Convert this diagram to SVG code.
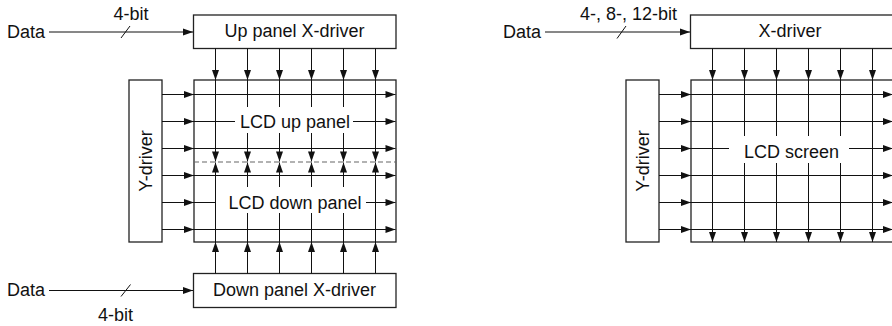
<svg xmlns="http://www.w3.org/2000/svg" width="892" height="326" viewBox="0 0 892 326">
<style>
  .box { fill: #fff; stroke: #222; stroke-width: 1.3; }
  .panel { fill: none; stroke: #222; stroke-width: 1.3; }
  .ln { fill: none; stroke: #111; stroke-width: 1; }
  .arr { fill: none; stroke: #111; stroke-width: 1; marker-end: url(#ah); }
  .dash { fill: none; stroke: #666; stroke-width: 1.2; stroke-dasharray: 5 3; }
  .bg { fill: #fff; stroke: none; }
  text { font-family: "Liberation Sans", Arial, sans-serif; font-size: 18px; fill: #111; }
  .mid { text-anchor: middle; }
</style>
<defs>
  <marker id="ah" markerUnits="userSpaceOnUse" markerWidth="10" markerHeight="7" refX="10" refY="3.5" orient="auto" overflow="visible">
    <path d="M0,0 L10,3.5 L0,7 Z" fill="#111"/>
  </marker>
</defs>

<!-- Left diagram nodes -->
<g id="up-panel-x-driver">
  <rect class="box" x="193.5" y="15" width="202.5" height="33.5"/>
  <text class="mid" x="294.5" y="37">Up panel X-driver</text>
</g>
<g id="down-panel-x-driver">
  <rect class="box" x="193.5" y="273.5" width="202.5" height="34"/>
  <text class="mid" x="294.5" y="296">Down panel X-driver</text>
</g>
<g id="y-driver-left">
  <rect class="box" x="129" y="80" width="33" height="162"/>
  <text class="mid" transform="translate(152,161) rotate(-90)">Y-driver</text>
</g>
<g id="lcd-panel-left">
  <rect class="panel" x="194" y="80" width="202" height="162"/>
</g>

<!-- Right diagram nodes -->
<g id="x-driver-right">
  <rect class="box" x="690.5" y="15" width="203" height="33.5"/>
  <text class="mid" x="790" y="37">X-driver</text>
</g>
<g id="y-driver-right">
  <rect class="box" x="626" y="80" width="33" height="162"/>
  <text class="mid" transform="translate(649,161) rotate(-90)">Y-driver</text>
</g>
<g id="lcd-screen">
  <rect class="panel" x="691" y="80" width="203" height="162"/>
</g>

<!-- Connectors -->
<g id="connectors">
  <!-- data inputs -->
  <text x="7" y="38">Data</text>
  <path class="arr" d="M49,32 H193"/>
  <path class="ln" d="M121,38 L130,26"/>
  <text class="mid" x="131" y="20">4-bit</text>

  <text x="7" y="296">Data</text>
  <path class="arr" d="M49,290.5 H193"/>
  <path class="ln" d="M121,296.5 L130.5,284.5"/>
  <text class="mid" x="115.5" y="320.5">4-bit</text>

  <text x="503" y="38">Data</text>
  <path class="arr" d="M545,32 H690"/>
  <path class="ln" d="M617,38.5 L626,26"/>
  <text class="mid" x="628.5" y="19.5">4-, 8-, 12-bit</text>

  <!-- left: up panel columns -->
  <path class="arr" d="M215.5,48.5 V80"/><path class="arr" d="M215.5,80 V161.5"/>
  <path class="arr" d="M247.5,48.5 V80"/><path class="arr" d="M247.5,80 V161.5"/>
  <path class="arr" d="M279.5,48.5 V80"/><path class="arr" d="M279.5,80 V161.5"/>
  <path class="arr" d="M311.5,48.5 V80"/><path class="arr" d="M311.5,80 V161.5"/>
  <path class="arr" d="M343.5,48.5 V80"/><path class="arr" d="M343.5,80 V161.5"/>
  <path class="arr" d="M375.5,48.5 V80"/><path class="arr" d="M375.5,80 V161.5"/>
  <!-- left: down panel columns -->
  <path class="arr" d="M215.5,273.5 V242"/><path class="arr" d="M215.5,242 V162.5"/>
  <path class="arr" d="M247.5,273.5 V242"/><path class="arr" d="M247.5,242 V162.5"/>
  <path class="arr" d="M279.5,273.5 V242"/><path class="arr" d="M279.5,242 V162.5"/>
  <path class="arr" d="M311.5,273.5 V242"/><path class="arr" d="M311.5,242 V162.5"/>
  <path class="arr" d="M343.5,273.5 V242"/><path class="arr" d="M343.5,242 V162.5"/>
  <path class="arr" d="M375.5,273.5 V242"/><path class="arr" d="M375.5,242 V162.5"/>
  <!-- left: rows -->
  <path class="arr" d="M162,94.5 H194"/><path class="arr" d="M194,94.5 H395.5"/>
  <path class="arr" d="M162,121.5 H194"/><path class="arr" d="M194,121.5 H395.5"/>
  <path class="arr" d="M162,148.5 H194"/><path class="arr" d="M194,148.5 H395.5"/>
  <path class="arr" d="M162,175.5 H194"/><path class="arr" d="M194,175.5 H395.5"/>
  <path class="arr" d="M162,202.5 H194"/><path class="arr" d="M194,202.5 H395.5"/>
  <path class="arr" d="M162,229.5 H194"/><path class="arr" d="M194,229.5 H395.5"/>
  <path class="dash" d="M194,162 H396"/>

  <!-- right: columns -->
  <path class="arr" d="M712.5,48.5 V80"/><path class="arr" d="M712.5,80 V242"/>
  <path class="arr" d="M744.5,48.5 V80"/><path class="arr" d="M744.5,80 V242"/>
  <path class="arr" d="M776.5,48.5 V80"/><path class="arr" d="M776.5,80 V242"/>
  <path class="arr" d="M808.5,48.5 V80"/><path class="arr" d="M808.5,80 V242"/>
  <path class="arr" d="M840.5,48.5 V80"/><path class="arr" d="M840.5,80 V242"/>
  <path class="arr" d="M872.5,48.5 V80"/><path class="arr" d="M872.5,80 V242"/>
  <!-- right: rows -->
  <path class="arr" d="M659,94.5 H691"/><path class="arr" d="M691,94.5 H893"/>
  <path class="arr" d="M659,121.5 H691"/><path class="arr" d="M691,121.5 H893"/>
  <path class="arr" d="M659,148.5 H691"/><path class="arr" d="M691,148.5 H893"/>
  <path class="arr" d="M659,175.5 H691"/><path class="arr" d="M691,175.5 H893"/>
  <path class="arr" d="M659,202.5 H691"/><path class="arr" d="M691,202.5 H893"/>
  <path class="arr" d="M659,229.5 H691"/><path class="arr" d="M691,229.5 H893"/>
</g>

<!-- Panel labels -->
<g id="label-lcd-up-panel">
  <rect class="bg" x="235" y="107" width="118" height="26"/>
  <text class="mid" x="295" y="128">LCD up panel</text>
</g>
<g id="label-lcd-down-panel">
  <rect class="bg" x="216" y="187" width="150" height="26"/>
  <text class="mid" x="295" y="208.5">LCD down panel</text>
</g>
<g id="label-lcd-screen">
  <rect class="bg" x="729" y="136" width="120" height="27"/>
  <text class="mid" x="791.5" y="157.5">LCD screen</text>
</g>
</svg>
